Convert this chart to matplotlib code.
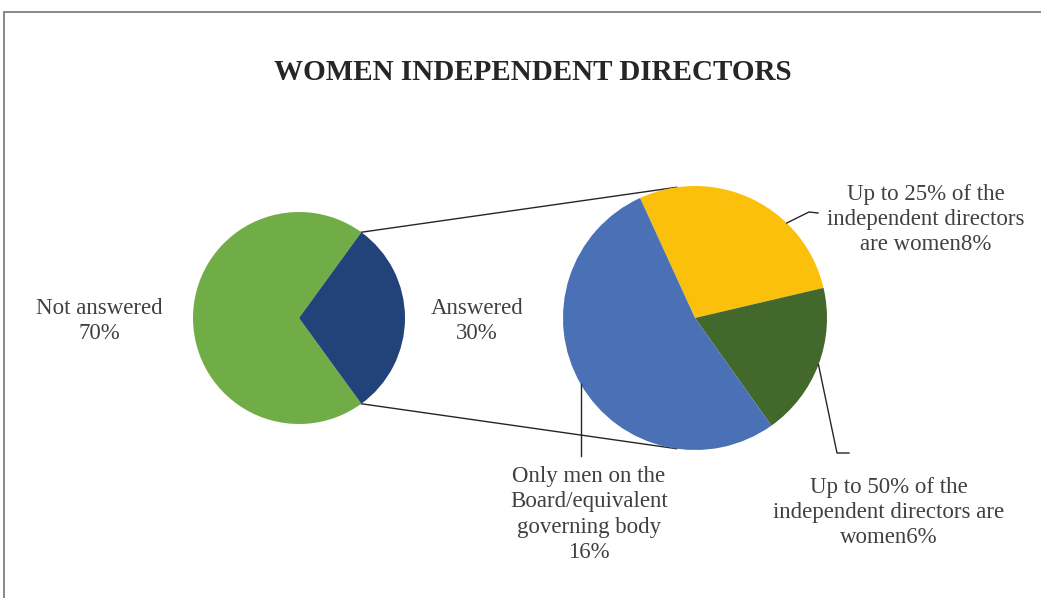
import numpy as np
import matplotlib
matplotlib.use('Agg')
import matplotlib.pyplot as plt
from matplotlib.patches import Rectangle

# Data
main_labels = ['Not answered', 'Answered']
main_values = [70, 30]
split_labels = ['Up to 25% of the\nindependent directors\nare women',
                'Up to 50% of the\nindependent directors are\nwomen',
                'Only men on the\nBoard/equivalent\ngoverning body\n']
split_values = [8.45, 5.65, 15.9]

main_colors = ['#70ad47', '#22427a']
split_colors = ['#fbc00b', '#43682b', '#4a70b5']
text_color = '#404040'

plt.rcParams['font.family'] = ['Liberation Serif', 'DejaVu Serif']

W, H = 1041, 598
fig = plt.figure(figsize=(W / 100, H / 100), dpi=100)
ax = fig.add_axes([0, 0, 1, 1])

# chart frame (runs past the right / bottom edges)
ax.add_patch(Rectangle((4, -20), W + 20, H - 12 + 20, fill=False,
                       edgecolor='#7f7f7f', linewidth=1.3))

fig.text(533 / W, 1 - 73 / H, 'WOMEN INDEPENDENT DIRECTORS', ha='center', va='center',
         fontsize=21, fontweight='bold', color='#262626')

# left pie
c1, r1 = (299, H - 318), 106
ax.pie(main_values, colors=main_colors, startangle=54, center=c1, radius=r1,
       wedgeprops=dict(linewidth=0), frame=True)

# right pie
c2, r2 = (695, H - 318), 132
wedges2, _ = ax.pie(split_values, colors=split_colors, startangle=114.6, counterclock=False,
                    center=c2, radius=r2, wedgeprops=dict(linewidth=0), frame=True)
ax.set_xlim(0, W)
ax.set_ylim(0, H)
ax.set_aspect('auto')
ax.axis('off')

# connector lines between the two pies
half = main_values[1] / sum(main_values) * 180
for sgn in (1, -1):
    a = np.radians(sgn * half)
    b = np.radians(90 + sgn * 8) if sgn > 0 else np.radians(270 - 8)
    ax.plot([c1[0] + r1 * np.cos(a), c2[0] + r2 * np.cos(b)],
            [c1[1] + r1 * np.sin(a), c2[1] + r2 * np.sin(b)],
            color='#262626', linewidth=1.0, zorder=0)


def edge(angle):
    t = np.radians(angle)
    return c2[0] + r2 * np.cos(t), c2[1] + r2 * np.sin(t)


def mid_angle(w):
    return (w.theta1 + w.theta2) / 2


# leader lines
x0, y0 = edge(46)
ax.plot([x0, 809, 818], [y0, H - 212, H - 213], color='#262626', linewidth=1.0)
x0, y0 = edge(mid_angle(wedges2[1]))
ax.plot([x0, 837, 849], [y0, H - 453, H - 453], color='#262626', linewidth=1.0)
x0, y0 = edge(mid_angle(wedges2[2]))
ax.plot([x0, x0], [y0, H - 456], color='#262626', linewidth=1.0)

tkw = dict(ha='center', va='center', fontsize=16.5, color=text_color, linespacing=1.27)
ax.text(99, H - 321, f'{main_labels[0]}\n{main_values[0]}%', **tkw)
ax.text(477, H - 321, f'{main_labels[1]}\n{main_values[1]}%', **tkw)
ax.text(926, H - 219.5, f'{split_labels[0]}{split_values[0]:.0f}%', **tkw)
ax.text(889, H - 512.5, f'{split_labels[1]}{split_values[1]:.0f}%', **tkw)
ax.text(589, H - 514.5, f'{split_labels[2]}{split_values[2]:.0f}%', **tkw)

fig.savefig('out.png', dpi=100, facecolor='white')
